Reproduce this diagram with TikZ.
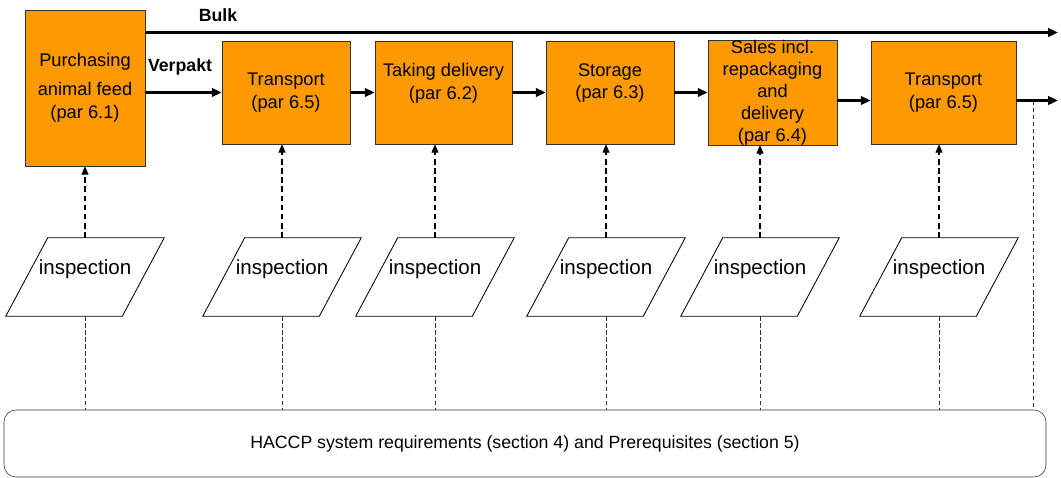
\documentclass[tikz,border=0pt]{standalone}
\usepackage{fontspec}
\setmainfont{Liberation Sans}
\usetikzlibrary{arrows.meta}
\definecolor{feedorange}{RGB}{255,153,0}
\tikzset{
  stepbox/.style={draw=black!80,fill=feedorange,align=center,inner sep=1pt,
    font=\fontsize{13}{16}\selectfont},
  inspect/.style={minimum width=2.9cm,minimum height=1.95cm,inner sep=0pt,
    text depth=0.5cm,font=\fontsize{14.6}{17}\selectfont},
  inspectframe/.style={draw=black,line width=0.6pt},
  flow/.style={line width=2.1pt,-{Triangle[length=7pt,width=6pt]}},
  checkline/.style={dash pattern=on 4pt off 2.5pt,line width=0.8pt,
    -{Triangle[length=6pt,width=5pt]}},
  reqline/.style={dash pattern=on 3pt off 2pt,line width=0.5pt,draw=black!80},
}
\begin{document}
\begin{tikzpicture}
  \useasboundingbox (0,0) rectangle (26.525,-11.95);

  \node[stepbox,minimum width=3cm,minimum height=3.9cm] (buy) at (2.125,-2.2) {Purchasing\\[4.6pt]animal feed\\(par 6.1)};
  \node[stepbox,minimum width=3.2cm,minimum height=2.575cm] (haul) at (7.15,-2.3125) {Transport\\(par 6.5)};
  \node[stepbox,minimum width=3.425cm,minimum height=2.575cm] (take) at (11.0875,-2.3125) {Taking delivery\\(par 6.2)\\~};
  \node[stepbox,minimum width=3.2cm,minimum height=2.575cm] (store) at (15.25,-2.3125) {Storage\\(par 6.3)\\~};
  \node[stepbox,minimum width=3.225cm,minimum height=2.575cm,inner ysep=0pt,
    font=\fontsize{13}{15.6}\selectfont] (sell) at (19.3125,-2.3125) {Sales incl.\\repackaging\\and\\delivery\\(par 6.4)};
  \node[stepbox,minimum width=3.625cm,minimum height=2.575cm] (haul2) at (23.5875,-2.3125) {Transport\\(par 6.5)};

  \node[font=\bfseries\fontsize{12.6}{15}\selectfont] (bulk) at (5.45,-0.375) {Bulk};
  \node[font=\bfseries\fontsize{12.6}{15}\selectfont] (verpakt) at (4.5,-1.675) {Verpakt};

  \coordinate (bulkend) at (26.45,-0.8125);
  \coordinate (out) at (26.45,-2.5125);
  \coordinate (tap) at (25.825,-2.5125);

  \draw[flow] (buy.east |- bulkend) -- (bulkend);
  \draw[flow] (buy.east |- haul.west) -- (haul.west);
  \path (haul) edge[flow] (take);
  \path (take) edge[flow] (store);
  \path (store) edge[flow] (sell);
  \draw[flow] (sell.east |- out) -- (haul2.west |- out);
  \draw[flow] (haul2.east |- out) -- (out);

  % inspection steps (parallelograms)
  \node[inspect] (i1) at (2.125,-6.925) {inspection};
  \node[inspect] (i2) at (7.05,-6.925) {inspection};
  \node[inspect] (i3) at (10.875,-6.925) {inspection};
  \node[inspect] (i4) at (15.15,-6.925) {inspection};
  \node[inspect] (i5) at (19.0,-6.925) {inspection};
  \node[inspect] (i6) at (23.475,-6.925) {inspection};
  \foreach \i in {i1,i2,i3,i4,i5,i6}
    \draw[inspectframe] ([xshift=-0.525cm]\i.south west) -- ([xshift=-0.525cm]\i.south east)
      -- ([xshift=0.525cm]\i.north east) -- ([xshift=0.525cm]\i.north west) -- cycle;

  \node[draw=black!80,rounded corners=0.3cm,minimum width=26.05cm,minimum height=1.675cm,
    font=\fontsize{12.6}{15}\selectfont] (haccp) at (13.125,-11.0875)
    {HACCP system requirements (section 4) and Prerequisites (section 5)};

  \draw[checkline] (i1.north) -- (i1.north |- buy.south);
  \draw[checkline] (i2.north) -- (i2.north |- haul.south);
  \draw[checkline] (i3.north) -- (i3.north |- take.south);
  \draw[checkline] (i4.north) -- (i4.north |- store.south);
  \draw[checkline] (i5.north) -- (i5.north |- sell.south);
  \draw[checkline] (i6.north) -- (i6.north |- haul2.south);

  \draw[reqline] (i1.south) -- (i1.south |- haccp.north);
  \draw[reqline] (i2.south) -- (i2.south |- haccp.north);
  \draw[reqline] (i3.south) -- (i3.south |- haccp.north);
  \draw[reqline] (i4.south) -- (i4.south |- haccp.north);
  \draw[reqline] (i5.south) -- (i5.south |- haccp.north);
  \draw[reqline] (i6.south) -- (i6.south |- haccp.north);
  \draw[reqline] (tap) -- (tap |- haccp.north);
\end{tikzpicture}
\end{document}
